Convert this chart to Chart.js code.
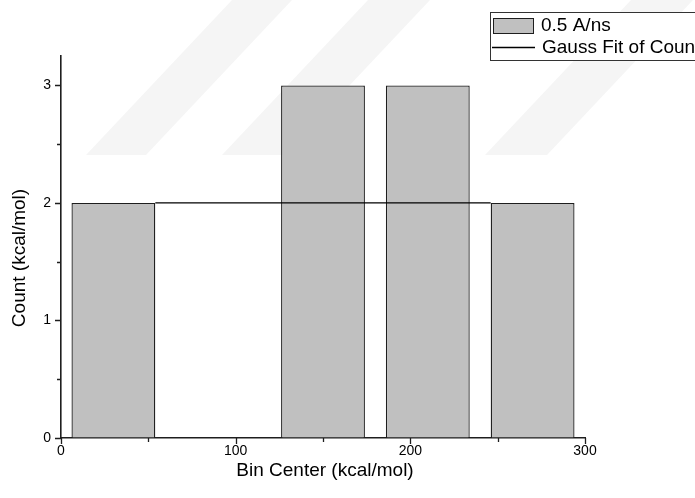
<!DOCTYPE html>
<html>
<head>
<meta charset="utf-8">
<title>Histogram – 0.5 A/ns</title>
<script src="https://cdn.jsdelivr.net/npm/chart.js@4/dist/chart.umd.min.js"></script>
<style>
  html, body { margin: 0; padding: 0; background: #ffffff; }
  #wrap { width: 695px; height: 498px; position: relative; }
</style>
</head>
<body>
<div id="wrap"><canvas id="hist" width="695" height="498"></canvas></div>
<script>
// Histogram bins (bin centers, kcal/mol) and their counts
const binCenters = [30, 90, 150, 210, 270];
const counts = [2, 0, 3, 3, 2];

// Gauss fit of the counts (flat result between the outer bins)
const fitX = [54, 246];
const fitY = [2, 2];

// Axis ticks
const xMajorTicks = [0, 100, 200, 300];
const xMinorTicks = [50, 150, 250];
const yMajorTicks = [0, 1, 2, 3];
const yMinorTicks = [0.5, 1.5, 2.5];

const seriesLabel = '0.5 A/ns';
const fitLabel = 'Gauss Fit of Count';
const xTitle = 'Bin Center (kcal/mol)';
const yTitle = 'Count (kcal/mol)';

const FONT = '"Liberation Sans", Arial, Helvetica, sans-serif';
const AXIS_COLOR = '#1e1e1e';

// Faint diagonal bands in the page background
const backgroundBands = {
  id: 'backgroundBands',
  beforeDraw(chart) {
    const ctx = chart.ctx;
    ctx.save();
    ctx.fillStyle = '#f5f5f5';
    const bands = [
      [86, 146, 232, 292],
      [222, 284, 368, 430],
      [485, 547, 631, 693]
    ];
    const yTop = 0, yBot = 155;
    bands.forEach(([b0, b1, t0, t1]) => {
      ctx.beginPath();
      ctx.moveTo(t0, yTop);
      ctx.lineTo(t1, yTop);
      ctx.lineTo(b1, yBot);
      ctx.lineTo(b0, yBot);
      ctx.closePath();
      ctx.fill();
    });
    ctx.restore();
  }
};

// Outward tick marks (major and minor) and the axis titles
const axisDecor = {
  id: 'axisDecor',
  afterDraw(chart) {
    const ctx = chart.ctx;
    const xs = chart.scales.x, ys = chart.scales.y;
    const x0 = ys.right, y0 = xs.top;
    ctx.save();
    ctx.strokeStyle = AXIS_COLOR;
    ctx.lineWidth = 1.3;
    ctx.beginPath();
    const xt = (v, len) => {
      const px = Math.round(xs.getPixelForValue(v)) + 0.5;
      ctx.moveTo(px, y0);
      ctx.lineTo(px, y0 + len);
    };
    const yt = (v, len) => {
      const py = Math.round(ys.getPixelForValue(v)) + 0.5;
      ctx.moveTo(x0, py);
      ctx.lineTo(x0 - len, py);
    };
    xMajorTicks.forEach(v => xt(v, 6));
    xMinorTicks.forEach(v => xt(v, 4));
    yMajorTicks.forEach(v => yt(v, 6));
    yMinorTicks.forEach(v => yt(v, 4));
    ctx.stroke();

    ctx.fillStyle = '#000000';
    ctx.font = '19px ' + FONT;
    ctx.textAlign = 'center';
    ctx.textBaseline = 'middle';
    ctx.fillText(xTitle, 325, 471);
    ctx.translate(20, 258);
    ctx.rotate(-Math.PI / 2);
    ctx.fillText(yTitle, 0, 0);
    ctx.restore();
  }
};

// Boxed legend in the upper right corner
const boxLegend = {
  id: 'boxLegend',
  afterDraw(chart) {
    const ctx = chart.ctx;
    const ds = chart.data.datasets;
    const bars = ds.find(d => d.type === 'bar');
    const fit = ds.find(d => d.type === 'line');
    ctx.save();
    ctx.fillStyle = '#ffffff';
    ctx.fillRect(490, 12, 260, 48);
    ctx.strokeStyle = '#333333';
    ctx.lineWidth = 1;
    ctx.strokeRect(490.5, 12.5, 260, 48);

    // bar swatch
    ctx.fillStyle = bars.backgroundColor;
    ctx.fillRect(493, 18, 40, 15);
    ctx.strokeStyle = bars.borderColor;
    ctx.strokeRect(493.5, 18.5, 40, 15);

    // fit line sample
    ctx.strokeStyle = fit.borderColor;
    ctx.lineWidth = 1.3;
    ctx.beginPath();
    ctx.moveTo(492, 47.5);
    ctx.lineTo(535, 47.5);
    ctx.stroke();

    ctx.fillStyle = '#000000';
    ctx.font = '19px ' + FONT;
    ctx.textBaseline = 'middle';
    ctx.textAlign = 'left';
    ctx.fillText(bars.label, 541, 26);
    ctx.fillText(fit.label, 542, 48);
    ctx.restore();
  }
};

new Chart(document.getElementById('hist'), {
  type: 'bar',
  data: {
    datasets: [
      {
        type: 'line',
        label: fitLabel,
        data: fitX.map((x, i) => ({ x, y: fitY[i] })),
        borderColor: '#000000',
        borderWidth: 1.3,
        pointRadius: 0,
        fill: false,
        order: 0
      },
      {
        type: 'bar',
        label: seriesLabel,
        data: binCenters.map((x, i) => ({ x, y: counts[i] })),
        backgroundColor: '#c0c0c0',
        borderColor: '#1e1e1e',
        borderWidth: 1.3,
        borderSkipped: 'start',
        barPercentage: 0.8,
        categoryPercentage: 1.0,
        order: 1
      }
    ]
  },
  options: {
    responsive: false,
    animation: false,
    events: [],
    layout: { padding: { left: 0, top: 56, right: 110, bottom: 0 } },
    plugins: {
      legend: { display: false },
      tooltip: { enabled: false },
      title: { display: false }
    },
    scales: {
      x: {
        type: 'linear',
        min: 0,
        max: 300,
        offset: false,
        afterFit(s) { s.height = 60; },
        afterBuildTicks(s) { s.ticks = xMajorTicks.map(v => ({ value: v })); },
        ticks: { font: { family: FONT, size: 14 }, color: '#000000', padding: 0, maxRotation: 0 },
        grid: {
          display: true, drawOnChartArea: false, drawTicks: true,
          tickLength: 5, tickColor: 'rgba(0,0,0,0)'
        },
        border: { display: true, color: AXIS_COLOR, width: 1.6 },
        title: { display: false }
      },
      y: {
        type: 'linear',
        min: 0,
        max: 3.25,
        afterFit(s) { s.width = 61; },
        afterBuildTicks(s) { s.ticks = yMajorTicks.map(v => ({ value: v })); },
        ticks: { font: { family: FONT, size: 14 }, color: '#000000', padding: 4 },
        grid: {
          display: true, drawOnChartArea: false, drawTicks: true,
          tickLength: 6, tickColor: 'rgba(0,0,0,0)'
        },
        border: { display: true, color: AXIS_COLOR, width: 1.6 },
        title: { display: false }
      }
    }
  },
  plugins: [backgroundBands, axisDecor, boxLegend]
});
</script>
</body>
</html>
